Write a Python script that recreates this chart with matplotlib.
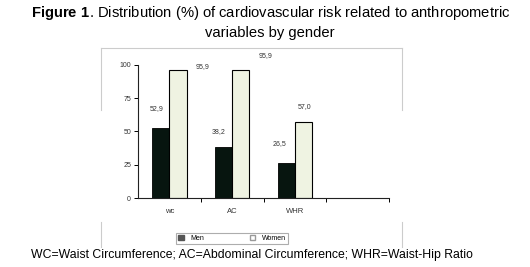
import numpy as np
import matplotlib.pyplot as plt
from matplotlib.lines import Line2D
from matplotlib.patches import Patch

# data
categories = ["wc", "AC", "WHR"]
men = [52.9, 38.2, 26.5]
women = [95.9, 95.9, 57.0]
men_labels = ["52,9", "38,2", "26,5"]
women_labels = ["95,9", "95,9", "57,0"]
yticks = [0, 25, 50, 75, 100]

plt.rcParams['font.family'] = ['Liberation Sans', 'DejaVu Sans']
plt.rcParams['mathtext.fontset'] = 'custom'
plt.rcParams['mathtext.rm'] = 'Liberation Sans'
plt.rcParams['mathtext.bf'] = 'Liberation Sans:bold'

fig = plt.figure(figsize=(5.3, 2.67), dpi=100)
ax = fig.add_axes([0.2604, 0.2584, 0.4736, 0.4982])

x = np.arange(len(categories))
w = 0.28
men_col = "#07150f"
women_col = "#eff3e2"

ax.bar(x - 0.135, men, width=w, color=men_col, edgecolor="black", linewidth=0.6)
ax.bar(x + 0.135, women, width=w, color=women_col, edgecolor="black", linewidth=0.8)

# value labels, placed like in the original (offsets in points)
men_off = [(-3, 11), (-4, 9), (-5, 11)]
women_off = [(18, 0), (18, 8), (1, 9)]
for i in range(len(categories)):
    ax.annotate(men_labels[i], (x[i] - 0.135, men[i]), xytext=men_off[i],
                textcoords="offset points", ha="center", va="bottom",
                fontsize=5, color="#333333")
    ax.annotate(women_labels[i], (x[i] + 0.135, women[i]), xytext=women_off[i],
                textcoords="offset points", ha="center", va="bottom",
                fontsize=5, color="#333333")

ax.set_xlim(-0.5, 3.5)
ax.set_ylim(0, 100)
ax.set_yticks(yticks)
ax.set_yticklabels([str(v) for v in yticks], fontsize=5, color="#333333")
ax.set_xticks([0.5, 1.5, 2.5, 3.5])
ax.set_xticklabels([])
ax.set_xticks(x, minor=True)
ax.set_xticklabels(categories, minor=True, fontsize=5.5, color="#333333")
ax.tick_params(axis="x", which="minor", length=0, pad=7)
ax.tick_params(axis="x", which="major", length=3, width=0.7, direction="out")
ax.tick_params(axis="y", length=3, width=0.7, direction="out", pad=2)
for s in ["top", "right"]:
    ax.spines[s].set_visible(False)
for s in ["left", "bottom"]:
    ax.spines[s].set_linewidth(0.8)
    ax.spines[s].set_color("#222222")

# legend
handles = [Patch(facecolor="#555555", edgecolor="#555555", label="Men"),
           Patch(facecolor="white", edgecolor="#999999", label="Women")]
leg = fig.legend(handles=handles, loc="center", bbox_to_anchor=(0.438, 0.106),
                 ncol=2, fontsize=5, frameon=True, fancybox=False,
                 handlelength=0.8, handleheight=0.8, columnspacing=6.5,
                 borderpad=0.3, handletextpad=1.0, borderaxespad=0)
leg._legend_box.align = "left"
leg.get_frame().set_edgecolor("#999999")
leg.get_frame().set_linewidth(0.8)

# faint chart frame (partially visible in the source)
fc = "#cccccc"
H = 267.0
def fy(py):
    return 1 - py / H
fig.add_artist(Line2D([101 / 530, 402 / 530], [fy(48), fy(48)], color=fc, lw=0.8))
for px in (101, 402):
    fig.add_artist(Line2D([px / 530, px / 530], [fy(48), fy(110)], color=fc, lw=0.8))
    fig.add_artist(Line2D([px / 530, px / 530], [fy(222), fy(247)], color=fc, lw=0.8))

# title and caption
fig.text(0.51, fy(13), r"$\mathbf{Figure\ 1}$. Distribution (%) of cardiovascular risk related to anthropometric",
         ha="center", va="center", fontsize=10.6)
fig.text(0.51, fy(33), "variables by gender", ha="center", va="center", fontsize=10.6)
fig.text(0.476, fy(255), "WC=Waist Circumference; AC=Abdominal Circumference; WHR=Waist-Hip Ratio",
         ha="center", va="center", fontsize=8.8)

fig.savefig("out.png", dpi=100)
